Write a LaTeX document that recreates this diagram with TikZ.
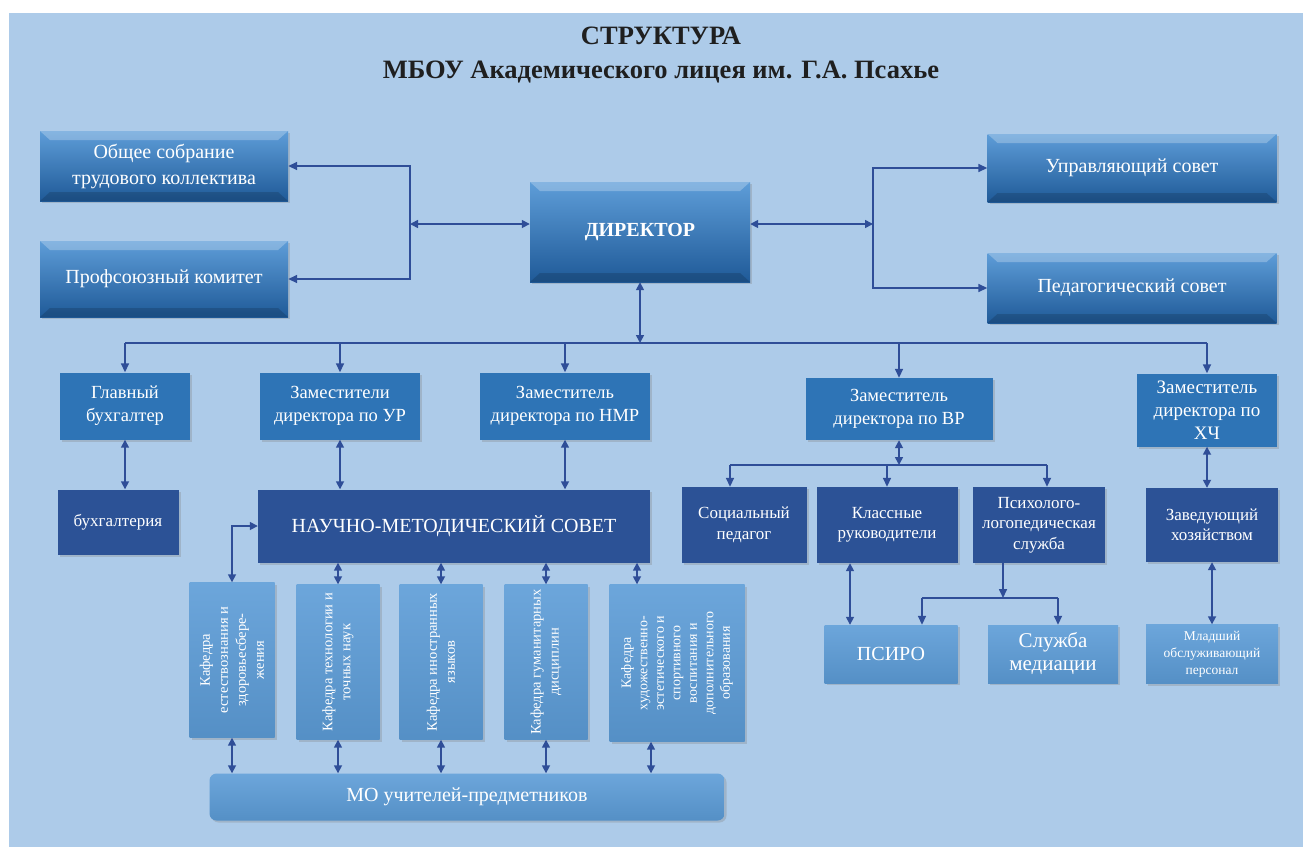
\documentclass[tikz,border=0pt]{standalone}
\usepackage{fontspec}
\setmainfont{Liberation Serif}
\usetikzlibrary{arrows.meta,shadows}

\definecolor{fond}{HTML}{ADCBE9}
\definecolor{fleche}{HTML}{2F4E98}
\definecolor{bleumoyen}{HTML}{2E74B6}
\definecolor{bleufonce}{HTML}{2C5296}
\definecolor{bleuclair}{HTML}{5C9CD7}
\definecolor{biseauhaut}{HTML}{5E9DD8}
\definecolor{biseaubas}{HTML}{1F5A98}

\tikzset{
  boite/.style={draw=none, text=white, align=center, inner sep=2pt,
    drop shadow={shadow xshift=2pt, shadow yshift=-2pt, opacity=.3}},
  biseau/.style={boite, top color=biseauhaut, bottom color=biseaubas,
    font=\fontsize{20}{26}\selectfont,
    path picture={
      \fill[white, opacity=.25] (path picture bounding box.north west) -- (path picture bounding box.north east)
        -- ([shift={(-10pt,-9pt)}]path picture bounding box.north east) -- ([shift={(10pt,-9pt)}]path picture bounding box.north west) -- cycle;
      \fill[black, opacity=.15] (path picture bounding box.south west) -- (path picture bounding box.south east)
        -- ([shift={(-10pt,9pt)}]path picture bounding box.south east) -- ([shift={(10pt,9pt)}]path picture bounding box.south west) -- cycle;
    }},
  moyen/.style={boite, fill=bleumoyen, font=\fontsize{18.5}{23}\selectfont},
  fonce/.style={boite, fill=bleufonce, font=\fontsize{17}{20.5}\selectfont},
  clair/.style={boite, top color=bleuclair!90!white, bottom color=bleuclair!92!black,
    font=\fontsize{20}{23}\selectfont},
  kaftexte/.style={rotate=90, text=white, align=center, font=\fontsize{14.5}{18}\selectfont},
  titre/.style={text=black!88, align=center, font=\bfseries\fontsize{26.5}{30}\selectfont},
  lien/.style={draw=fleche, line width=1.6pt},
  fl/.style={lien, -{Triangle[length=9pt,width=8pt]}},
  dfl/.style={lien, {Triangle[length=8pt,width=8pt]}-{Triangle[length=8pt,width=8pt]}},
}

\begin{document}
\begin{tikzpicture}[x=1pt, y=-1pt]

\useasboundingbox (0,0) rectangle (1303,847);
\fill[white] (0,0) rectangle (1303,847);
\fill[fond] (9,13) rectangle (1303,847);

% Titre
\node[titre] (titre1) at (661,36) {СТРУКТУРА};
\node[titre] (titre2) at (661,72) {МБОУ Академического лицея им. Г.А. Псахье};

% Direction et organes collegiaux
\node[biseau, minimum width=220pt, minimum height=100pt, font=\bfseries\fontsize{20}{24}\selectfont] (dir) at (640,232) {ДИРЕКТОР};

\node[biseau, minimum width=248pt, minimum height=70pt] (assemblee) at (164,166) {Общее собрание\\трудового коллектива};
\node[biseau, minimum width=248pt, minimum height=76pt] (syndicat) at (164,279) {Профсоюзный комитет};
\node[biseau, minimum width=289pt, minimum height=68pt] (conseilg) at (1132,168) {Управляющий совет};
\node[biseau, minimum width=289pt, minimum height=70pt] (conseilp) at (1132,288) {Педагогический совет};

\coordinate (jg) at (410,224);
\coordinate (jd) at (873,224);
\draw[fl] (jg) |- (assemblee.east);
\draw[fl] (jg) |- (syndicat.east);
\draw[dfl] (jg) -- (jg -| dir.west);
\draw[dfl] (jd -| dir.east) -- (jd);
\draw[fl] (jd) |- (conseilg.west);
\draw[fl] (jd) |- (conseilp.west);

% Adjoints
\node[moyen, minimum width=130pt, minimum height=67pt] (comptable) at (125,406) {Главный\\бухгалтер};
\node[moyen, minimum width=160pt, minimum height=67pt] (adjur) at (340,406) {Заместители\\директора по УР};
\node[moyen, minimum width=170pt, minimum height=67pt] (adjnmr) at (565,406) {Заместитель\\директора по НМР};
\node[moyen, minimum width=187pt, minimum height=62pt] (adjvr) at (899,409) {Заместитель\\директора по ВР};
\node[moyen, minimum width=140pt, minimum height=73pt, font=\fontsize{19}{23}\selectfont] (adjhc) at (1207,410) {Заместитель\\директора по\\ХЧ};

\coordinate (bus) at (640,343);
\draw[dfl] (dir.south) -- (dir.south |- bus);
\draw[lien] (comptable.north |- bus) -- (adjhc.north |- bus);
\draw[fl] (comptable.north |- bus) -- (comptable.north);
\draw[fl] (adjur.north |- bus) -- (adjur.north);
\draw[fl] (adjnmr.north |- bus) -- (adjnmr.north);
\draw[fl] (adjvr.north |- bus) -- (adjvr.north);
\draw[fl] (adjhc.north |- bus) -- (adjhc.north);

% Services
\node[fonce, minimum width=121pt, minimum height=65pt] (compta) at (118,522) {бухгалтерия};
\node[fonce, minimum width=392pt, minimum height=73pt, font=\fontsize{20}{24}\selectfont] (nms) at (454,526) {НАУЧНО-МЕТОДИЧЕСКИЙ СОВЕТ};
\node[fonce, minimum width=125pt, minimum height=76pt] (socped) at (744,525) {Социальный\\педагог};
\node[fonce, minimum width=141pt, minimum height=76pt] (classe) at (887,525) {Классные\\руководители};
\node[fonce, minimum width=132pt, minimum height=76pt] (psylog) at (1039,525) {Психолого-\\логопедическая\\служба};
\node[fonce, minimum width=132pt, minimum height=74pt] (intend) at (1212,525) {Заведующий\\хозяйством};

\draw[dfl] (comptable.south) -- (comptable.south |- compta.north);
\draw[dfl] (adjur.south) -- (adjur.south |- nms.north);
\draw[dfl] (adjnmr.south) -- (adjnmr.south |- nms.north);
\draw[dfl] (adjhc.south) -- (adjhc.south |- intend.north);

\coordinate (jv) at (899,465);
\draw[dfl] (adjvr.south) -- (jv);
\draw[lien] ([xshift=-14pt]socped.north |- jv) -- ([xshift=8pt]psylog.north |- jv);
\draw[fl] ([xshift=-14pt]socped.north |- jv) -- ([xshift=-14pt]socped.north);
\draw[fl] (classe.north |- jv) -- (classe.north);
\draw[fl] ([xshift=8pt]psylog.north |- jv) -- ([xshift=8pt]psylog.north);

% Niveau inferieur
\node[clair, minimum width=133pt, minimum height=58pt] (psiro) at (891,654) {ПСИРО};
\node[clair, minimum width=130pt, minimum height=58pt, font=\fontsize{21}{23}\selectfont] (media) at (1053,654) {Служба\\медиации};
\node[clair, minimum width=132pt, minimum height=59pt, font=\fontsize{13.5}{17}\selectfont] (personnel) at (1212,654) {Младший\\обслуживающий\\персонал};

\draw[dfl] ([xshift=-37pt]classe.south) -- ([xshift=-37pt]classe.south |- psiro.north);
\coordinate (jp) at (1003,598);
\draw[fl] ([xshift=-36pt]psylog.south) -- (jp);
\draw[lien] ([xshift=31pt]psiro.north |- jp) -- ([xshift=5pt]media.north |- jp);
\draw[fl] ([xshift=31pt]psiro.north |- jp) -- ([xshift=31pt]psiro.north);
\draw[fl] ([xshift=5pt]media.north |- jp) -- ([xshift=5pt]media.north);
\draw[dfl] (intend.south) -- (intend.south |- personnel.north);

% Kafedry
\node[clair, minimum width=85pt, minimum height=155pt] (kaf1) at (232,660) {};
\node[clair, minimum width=83pt, minimum height=155pt] (kaf2) at (338,662) {};
\node[clair, minimum width=83pt, minimum height=155pt] (kaf3) at (441,662) {};
\node[clair, minimum width=83pt, minimum height=155pt] (kaf4) at (546,662) {};
\node[clair, minimum width=135pt, minimum height=157pt] (kaf5) at (677,663) {};

\node[kaftexte] (t1) at (kaf1) {Кафедра\\естествознания и\\здоровьесбере-\\жения};
\node[kaftexte] (t2) at (kaf2) {Кафедра технологии и\\точных наук};
\node[kaftexte] (t3) at (kaf3) {Кафедра иностранных\\языков};
\node[kaftexte] (t4) at (kaf4) {Кафедра гуманитарных\\дисциплин};
\node[kaftexte, font=\fontsize{14}{16.5}\selectfont] (t5) at (kaf5) {Кафедра\\художественно-\\эстетического и\\спортивного\\воспитания и\\дополнительного\\образования};

\draw[dfl] (kaf1.north) |- (nms.west);
\draw[dfl] (kaf2.north |- nms.south) -- (kaf2.north);
\draw[dfl] (kaf3.north |- nms.south) -- (kaf3.north);
\draw[dfl] (kaf4.north |- nms.south) -- (kaf4.north);
\draw[dfl] ([xshift=-40pt]kaf5.north |- nms.south) -- ([xshift=-40pt]kaf5.north);

% MO
\node[clair, rounded corners=7pt, minimum width=515pt, minimum height=47pt] (mo) at (467,797) {МО учителей-предметников};

\draw[dfl] (kaf1.south) -- (kaf1.south |- mo.north);
\draw[dfl] (kaf2.south) -- (kaf2.south |- mo.north);
\draw[dfl] (kaf3.south) -- (kaf3.south |- mo.north);
\draw[dfl] (kaf4.south) -- (kaf4.south |- mo.north);
\draw[dfl] ([xshift=-26pt]kaf5.south) -- ([xshift=-26pt]kaf5.south |- mo.north);

\end{tikzpicture}
\end{document}
